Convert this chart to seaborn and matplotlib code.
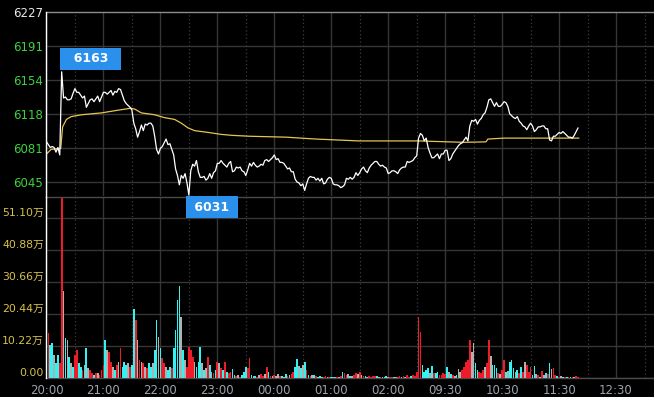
import numpy as np
import matplotlib
matplotlib.use("Agg")
import matplotlib.pyplot as plt
import seaborn as sns

# ---------------------------------------------------------------
# data: one sample every 2 minutes, trading minutes counted from 20:00
# (the 02:30 -> 09:00 break is removed from the axis)
# ---------------------------------------------------------------
step = 2

tick_minutes = [0, 60, 120, 180, 240, 300, 360, 420, 480, 540, 600]
tick_labels = ["20:00", "21:00", "22:00", "23:00", "00:00", "01:00",
               "02:00", "09:30", "10:30", "11:30", "12:30"]
half_minutes = [30, 90, 150, 210, 270, 330, 390, 450, 510, 570, 630]

price = [
    6088, 6085, 6082, 6083, 6082, 6077, 6082, 6074, 6163, 6135,
    6136, 6133, 6133, 6134, 6140, 6145, 6141, 6141, 6138, 6135,
    6137, 6125, 6129, 6133, 6134, 6131, 6134, 6137, 6131, 6136,
    6141, 6141, 6139, 6141, 6143, 6138, 6142, 6141, 6145, 6144,
    6138, 6132, 6129, 6127, 6125, 6122, 6108, 6102, 6093, 6099,
    6106, 6100, 6107, 6106, 6108, 6108, 6105, 6094, 6080, 6075,
    6081, 6083, 6087, 6091, 6085, 6086, 6080, 6074, 6059, 6052,
    6042, 6052, 6049, 6054, 6044, 6031, 6057, 6064, 6062, 6068,
    6056, 6050, 6050, 6051, 6047, 6049, 6054, 6049, 6055, 6057,
    6065, 6065, 6068, 6065, 6063, 6061, 6065, 6067,
    6056, 6057, 6061, 6060, 6061, 6057, 6056, 6052, 6058, 6065,
    6062, 6066, 6063, 6061, 6062, 6064, 6063, 6068, 6069, 6067,
    6069, 6071, 6074, 6069, 6070, 6066, 6066, 6065, 6062, 6059,
    6060, 6056, 6056, 6048, 6045, 6044, 6041, 6043, 6036, 6043,
    6049, 6051, 6050, 6050, 6047, 6049, 6046, 6049, 6043, 6044,
    6048, 6050, 6049, 6043, 6042, 6042, 6041, 6039, 6040, 6042,
    6049, 6048, 6050, 6048, 6050, 6055, 6052, 6055, 6059, 6061,
    6057, 6055, 6060, 6063, 6065, 6067, 6067, 6064, 6062, 6063,
    6061, 6060, 6054, 6055, 6057, 6057, 6056, 6054, 6058, 6060,
    6061, 6061, 6067, 6066, 6067, 6068, 6071,
    6073, 6092, 6097, 6095, 6089, 6092, 6082, 6076, 6071, 6071,
    6073, 6075, 6070, 6075, 6075, 6079, 6079, 6068, 6070, 6075,
    6078, 6081, 6084, 6086, 6087, 6090, 6093, 6089, 6105, 6111,
    6110, 6112, 6107, 6111, 6113, 6117, 6119, 6125, 6133, 6134,
    6130, 6126, 6130, 6126, 6126, 6128, 6131, 6130, 6126, 6118,
    6116, 6114, 6113, 6115, 6110, 6108, 6105, 6104, 6101, 6105,
    6108, 6105, 6099, 6101, 6104, 6104, 6105, 6105, 6102, 6102,
    6090, 6089, 6094, 6094, 6096, 6098, 6097, 6099, 6097, 6095,
    6093, 6093, 6092, 6095, 6099, 6103,
]

# volume in 万 (10k lots)
volume = [
    26.0, 14.3, 10.5, 11.1, 7.3, 4.7, 7.3, 4.7, 57.5, 27.8,
    12.7, 12.1, 6.8, 4.7, 3.6, 7.3, 8.9, 4.7, 3.6, 2.6,
    4.2, 9.5, 3.1, 2.6, 1.5, 1.0, 1.5, 1.5, 1.0, 2.6,
    4.2, 12.1, 8.9, 8.4, 5.2, 3.6, 2.6, 4.2, 5.2, 9.5,
    3.6, 5.2, 4.2, 4.7, 3.6, 4.2, 21.9, 18.5, 12.1, 5.7,
    5.2, 4.7, 3.6, 3.1, 4.7, 3.6, 4.7, 8.9, 18.5, 13.2,
    9.5, 6.3, 4.7, 3.6, 2.6, 3.6, 3.1, 9.5, 15.3, 24.9,
    29.4, 19.6, 8.9, 5.7, 3.6, 10.0, 8.9, 6.8, 5.2, 3.6,
    5.2, 10.0, 4.7, 2.6, 3.1, 6.8, 4.2, 2.0, 1.5, 2.6,
    5.2, 4.7, 3.1, 2.6, 5.2, 2.0, 1.5, 2.0,
    2.8, 1.0, 0.6, 1.0, 0.4, 1.0, 2.0, 3.4, 3.1, 6.3,
    1.0, 0.6, 0.7, 0.4, 1.0, 1.2, 0.7, 1.2, 3.4, 2.0,
    0.7, 0.6, 1.0, 0.6, 1.2, 0.6, 0.6, 0.4, 1.2, 0.7,
    1.0, 1.3, 2.0, 3.6, 6.1, 3.8, 3.1, 4.2, 5.2, 2.6,
    1.0, 0.6, 1.0, 1.0, 0.6, 0.4, 0.6, 0.4, 0.4, 0.6,
    0.4, 0.4, 0.4, 0.4, 0.2, 0.4, 0.4, 0.6, 2.0, 1.5,
    1.0, 1.2, 0.6, 0.7, 1.0, 1.5, 1.2, 2.0, 1.0, 0.7,
    0.6, 0.4, 0.6, 0.4, 0.7, 0.6, 0.6, 0.4, 0.4, 0.2,
    0.4, 0.6, 0.4, 0.4, 0.2, 0.4, 0.4, 0.4, 0.6, 0.2,
    0.6, 0.4, 1.0, 0.4, 0.6, 1.0, 0.7,
    2.0, 19.6, 14.8, 4.2, 2.0, 2.6, 3.1, 1.5, 3.8, 1.5,
    1.5, 2.0, 1.0, 1.0, 1.5, 1.2, 3.4, 2.0, 1.2, 1.0,
    0.6, 1.0, 2.8, 2.0, 2.6, 3.6, 5.2, 5.7, 12.1, 8.4,
    11.1, 4.7, 2.6, 2.0, 1.5, 2.6, 3.6, 4.7, 12.1, 7.0,
    4.2, 4.2, 3.1, 1.5, 1.3, 2.6, 5.7, 2.0, 2.3, 5.2,
    5.7, 3.1, 2.0, 2.6, 1.7, 3.6, 2.0, 5.2, 4.2, 2.0,
    3.6, 1.0, 3.8, 1.2, 1.0, 0.4, 2.3, 1.0, 1.7, 1.2,
    4.7, 2.8, 3.1, 1.0, 0.6, 0.4, 0.6, 0.4, 0.2, 0.4,
    0.2, 0.4, 0.4, 0.2, 0.6, 0.4,
]

# r = up tick, c = down tick, g = unchanged
bar_dir = (
    "grccgccrrgcgcgcrrccrgcgrrcrgrrrcgrrgcrgrcccgrccrgrgrgrccgccg"
    "crrgccrccccgcgrrrrgcccgcgrcgrcrgrcrcrr"
    "ccrgrcccrrcgcrgrrgrcrgrggrcgcrgrrccgcgcrcrgcrccgrrgrcgcrgrcr"
    "rgcgrrgrgrcgrrrrcgrcgcgrrcgrrcrgrrcrr"
    "rrrccccgcrccrrrrcgcrgcggrrrrrggccrrrgrrgcccrgrrcgcccgcrcrgrr"
    "rccgrcrgcrcgrrcrgcrcrcrgrr"
)

avg_minutes = [0, 5, 15, 17, 21, 26, 37, 58, 76, 89, 93, 100, 114, 124,
               135, 142, 149, 156, 171, 184, 195, 214, 253, 268, 284, 329,
               392, 423, 440, 463, 465, 482, 561]
avg_price = [6075, 6080, 6081, 6104, 6112, 6115, 6117, 6119, 6122, 6124,
             6123, 6119, 6117, 6114, 6112, 6108, 6103, 6100, 6098, 6096,
             6095, 6094, 6093, 6092, 6091, 6089, 6089, 6088, 6087.5, 6088,
             6091, 6092, 6092]

price_ticks = [6227, 6190.6, 6154.2, 6117.8, 6081.4, 6045.0]
price_tick_labels = ["6227", "6191", "6154", "6118", "6081", "6045"]
vol_ticks = [0, 10.22, 20.44, 30.66, 40.88, 51.10]
vol_tick_labels = ["0.00", "10.22万", "20.44万", "30.66万", "40.88万", "51.10万"]

# ---------------------------------------------------------------
sns.set_style("dark", {"axes.facecolor": "black", "figure.facecolor": "black"})
plt.rcParams['font.family'] = ['DejaVu Sans', 'Noto Sans CJK SC']

minutes = np.arange(len(price)) * step
dir_colors = {"r": "#ee1c28", "c": "#33f2f2", "g": "#b0b0b0"}
bar_colors = [dir_colors[d] for d in bar_dir]

W, H = 654, 397
fig = plt.figure(figsize=(W / 100, H / 100), dpi=100, facecolor="black")
ax_v = fig.add_axes([46 / W, 19 / H, 608 / W, 181.5 / H])
ax_p = fig.add_axes([46 / W, 200.5 / H, 608 / W, 184.5 / H])
ax_p.set_zorder(3)

grid_c = "#363636"
for ax in (ax_p, ax_v):
    ax.set_facecolor("black")
    ax.set_xlim(-0.5, 640)
    for m in tick_minutes:
        ax.axvline(m, color=grid_c, lw=1, zorder=0)
    for m in half_minutes:
        ax.axvline(m, color="#3c3c3c", lw=0.9, ls=(0, (1, 2)), zorder=0)
    for s in ax.spines.values():
        s.set_visible(False)
    ax.spines["left"].set_visible(True)
    ax.spines["left"].set_color("white")
    ax.spines["left"].set_linewidth(1)
    ax.spines["left"].set_zorder(5)

# ---- price panel
ax_p.set_ylim(6029.5, 6227)
for v in price_ticks[1:]:
    ax_p.axhline(v, color=grid_c, lw=1, zorder=0)
ax_p.axhline(6227, color="#8c8c8c", lw=1, clip_on=False)

sns.lineplot(x=avg_minutes, y=avg_price, ax=ax_p, color="#e6c453", lw=0.9,
             estimator=None, sort=False)
sns.lineplot(x=minutes, y=price, ax=ax_p, color="white", lw=0.9,
             estimator=None, sort=False)

ax_p.set_yticks(price_ticks, price_tick_labels)
ax_p.set_xticks([])
ax_p.tick_params(axis="y", length=0, pad=2, labelsize=8.5)
for i, lbl in enumerate(ax_p.get_yticklabels()):
    lbl.set_color("#e8e8e8" if i == 0 else "#3cd23c")
ax_p.set_xlabel("")
ax_p.set_ylabel("")

i_hi = int(np.argmax(price))
i_lo = int(np.argmin(price))
box = dict(boxstyle="square,pad=0.35", fc="#2b8fec", ec="none")
ax_p.annotate(f"  {price[i_hi]}  ", xy=(minutes[i_hi], price[i_hi]),
              xytext=(29, 13), textcoords="offset pixels", ha="center",
              va="center", color="white", fontsize=9, fontweight="bold",
              bbox=box, annotation_clip=False, zorder=6)
ax_p.annotate(f" {price[i_lo]} ", xy=(minutes[i_lo], price[i_lo]),
              xytext=(23, -12), textcoords="offset pixels", ha="center",
              va="center", color="white", fontsize=9, fontweight="bold",
              bbox=box, annotation_clip=False, zorder=6)

# ---- volume panel
ax_v.set_ylim(0, 58)
for v in vol_ticks:
    ax_v.axhline(v, color=grid_c, lw=1, zorder=0)
ax_v.axhline(58, color="#4a4a4a", lw=1, clip_on=False)
ax_v.axhline(0, color="#4a4a4a", lw=1, clip_on=False)
ax_v.bar(minutes, volume, width=1.8, color=bar_colors, linewidth=0, zorder=2)

ax_v.set_yticks(vol_ticks, vol_tick_labels)
ax_v.set_xticks(tick_minutes, tick_labels)
ax_v.tick_params(axis="y", length=0, pad=1.5, labelsize=7.8, colors="#d6c24a")
ax_v.tick_params(axis="x", length=0, pad=4, labelsize=8.5, colors="#9ba3ab")
for lbl in ax_v.get_yticklabels():
    lbl.set_va("bottom")

fig.savefig("out.png", dpi=100, facecolor="black")
